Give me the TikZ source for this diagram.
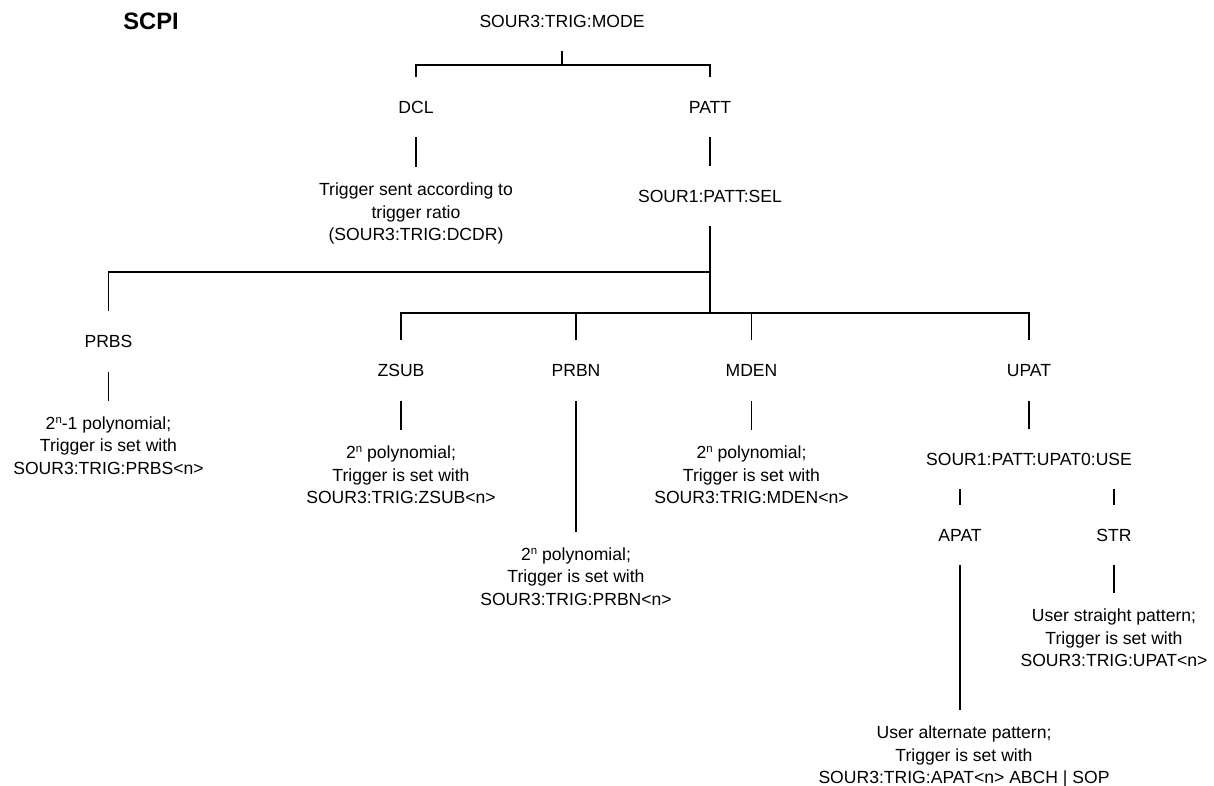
\documentclass[tikz,border=0pt]{standalone}
\usepackage{fontspec}
\setmainfont{Liberation Sans}
\usepackage{tikz}

\newcommand{\powern}{\raisebox{3.4pt}{\fontsize{6.5}{6.5}\selectfont n}}

\tikzset{
  cmd/.style={minimum height=1.2cm, inner sep=0pt},
  note/.style={anchor=north, align=center, inner xsep=0pt, inner ysep=0.31cm},
  wire/.style={line width=0.7pt}
}

\begin{document}
\begin{tikzpicture}[font=\fontsize{10}{12.8}\selectfont]
\useasboundingbox (0,0) rectangle (24.28,-15.70);
\node[font=\fontsize{13.5}{16}\selectfont\bfseries] (scpi) at (3.02,-0.42) {SCPI};
\node[cmd] (mode) at (11.24,-0.42) {SOUR3:TRIG:MODE};
\coordinate (modebar) at (11.24,-1.30);
\node[cmd] (dcl)  at (8.32,-2.14) {DCL};
\node[cmd] (patt) at (14.2,-2.14) {PATT};
\node[note] (dcltxt) at (8.32,-3.34) {Trigger sent according to\\trigger ratio\\(SOUR3:TRIG:DCDR)};
\node[cmd] (sel) at (14.2,-3.92) {SOUR1:PATT:SEL};
\coordinate (selhi) at (14.2,-5.44);
\coordinate (sello) at (14.2,-6.26);
%second level
\node[cmd] (prbs) at (2.17,-6.83) {PRBS};
\node[cmd] (zsub) at (8.02,-7.41) {ZSUB};
\node[cmd] (prbn) at (11.52,-7.41) {PRBN};
\node[cmd] (mden) at (15.03,-7.41) {MDEN};
\node[cmd] (upat) at (20.58,-7.41) {UPAT};
\node[note] (prbstxt) at (2.17,-8.01) {2\powern-1 polynomial;\\Trigger is set with\\SOUR3:TRIG:PRBS<n>};
\node[note] (zsubtxt) at (8.02,-8.6) {2\powern\ polynomial;\\Trigger is set with\\SOUR3:TRIG:ZSUB<n>};
\node[note] (prbntxt) at (11.52,-10.63) {2\powern\ polynomial;\\Trigger is set with\\SOUR3:TRIG:PRBN<n>};
\node[note] (mdentxt) at (15.03,-8.6) {2\powern\ polynomial;\\Trigger is set with\\SOUR3:TRIG:MDEN<n>};
%user pattern
\node[cmd] (use)  at (20.58,-9.18) {SOUR1:PATT:UPAT0:USE};
\node[cmd] (apat) at (19.2,-10.7) {APAT};
\node[cmd] (str)  at (22.28,-10.7) {STR};
\node[note] (strtxt) at (22.28,-11.86) {User straight pattern;\\Trigger is set with\\SOUR3:TRIG:UPAT<n>};
\node[note] (apattxt) at (19.28,-14.2) {User alternate pattern;\\Trigger is set with\\SOUR3:TRIG:APAT<n> ABCH | SOP};

\draw[wire] (mode) -- (modebar);
\draw[wire] (dcl) |- (modebar) -| (patt);
\draw[wire] (dcl) -- (dcltxt);
\draw[wire] (patt) -- (sel);
\draw[wire] (sel) -- (sello);
\draw[wire] (selhi) -| (prbs);
\draw[wire] (zsub) |- (sello) -| (upat);
\draw[wire] (prbn) -- (prbn |- sello);
\draw[wire] (mden) -- (mden |- sello);
\draw[wire] (prbs) -- (prbstxt);
\draw[wire] (zsub) -- (zsubtxt);
\draw[wire] (prbn) -- (prbntxt);
\draw[wire] (mden) -- (mdentxt);
\draw[wire] (upat) -- (use);
\draw[wire] (apat) -- (apat |- use.south);
\draw[wire] (str) -- (str |- use.south);
\draw[wire] (apat) -- (apat |- apattxt.north);
\draw[wire] (str) -- (strtxt);
\end{tikzpicture}
\end{document}
